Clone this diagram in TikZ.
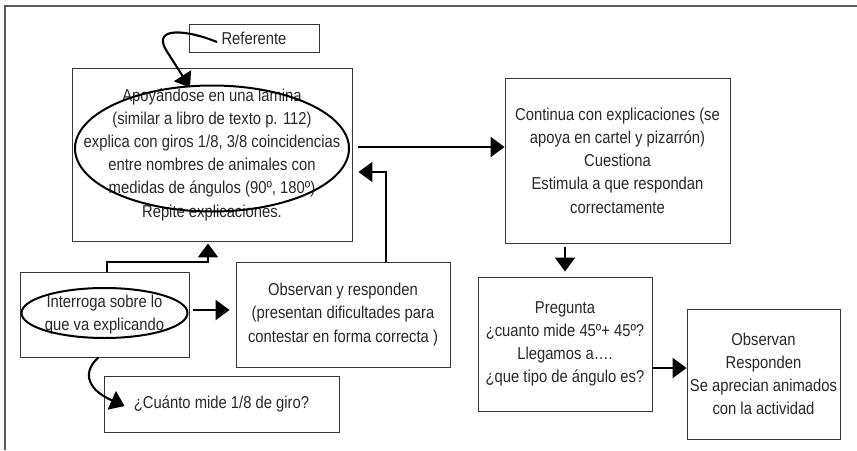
\documentclass[tikz,border=0pt]{standalone}
\usepackage{fontspec}
\setmainfont{Liberation Sans}[FakeStretch=0.86]
\usepackage{tikz}
\usetikzlibrary{arrows.meta, positioning, calc}
\definecolor{mytext}{RGB}{40,40,40}
\definecolor{myline}{RGB}{55,55,55}
\definecolor{myframe}{RGB}{90,90,90}
\tikzset{
  box/.style={rectangle, draw=myline, line width=0.9pt, align=center,
    inner sep=0pt, text=mytext, font=\fontsize{17.2}{23.2}\selectfont},
  arrow/.style={-{Triangle[width=20pt,length=14pt]}, line width=2.1pt, color=black},
  ring/.style={line width=2pt, color=black},
  frame/.style={line width=1.6pt, color=myframe}
}

\begin{document}
\begin{tikzpicture}[x=1pt, y=-1pt]
    \useasboundingbox (0,0) rectangle (857,450);
    % outer frame
    \draw[frame] (5,450) -- (5,6) -- (857,6);

    % boxes
    \node[box, minimum width=130pt, minimum height=28pt] (ref) at (254,38) {Referente};
    \node[box, minimum width=280pt, minimum height=173pt] (main) at (212,154.5)
      {Apoyándose en una lamina\\(similar a libro de texto p. 112)\\explica con giros 1/8, 3/8 coincidencias\\entre nombres de animales con\\medidas de ángulos (90º, 180º)\\Repite explicaciones.};
    \node[box, minimum width=225pt, minimum height=165pt] (continua) at (617.5,160.5)
      {Continua con explicaciones (se\\apoya en cartel y pizarrón)\\Cuestiona\\Estimula a que respondan\\correctamente};
    \node[box, minimum width=169pt, minimum height=85pt] (interroga) at (104.5,314.5)
      {Interroga sobre lo\\que va explicando};
    \node[box, minimum width=214pt, minimum height=105pt] (obs1) at (343,314.5)
      {Observan y responden\\(presentan dificultades para\\contestar en forma correcta )};
    \node[box, minimum width=235pt, minimum height=56pt] (cuanto) at (221.5,404)
      {¿Cuánto mide 1/8 de giro?};
    \node[box, minimum width=174pt, minimum height=134pt] (pregunta) at (565,344)
      {Pregunta\\¿cuanto mide 45º+ 45º?\\Llegamos a….\\¿que tipo de ángulo es?};
    \node[box, minimum width=153pt, minimum height=130pt] (obs2) at (763.5,374)
      {Observan\\Responden\\Se aprecian animados\\con la actividad};

    % ellipses round the key phrases
    \draw[ring] ([yshift=6pt]main.center) ellipse [x radius=137pt, y radius=63pt];
    \draw[ring] ([yshift=1.5pt]interroga.center) ellipse [x radius=83pt, y radius=25pt];

    % connectors
    \coordinate (refstart) at ([xshift=-37pt,yshift=-4pt]ref.center);
    \draw[arrow] (refstart) .. controls (188,30) and (152,26) .. (166,50) -- ([xshift=-22pt,yshift=-20pt]main.north);
    \draw[arrow] ([xshift=6pt,yshift=7.5pt]main.east) coordinate (a1) -- (continua.west |- a1);
    \draw[arrow] ([xshift=43pt]obs1.north) |- ([xshift=6pt,yshift=-17.5pt]main.east);
    \draw[arrow] ([xshift=2.5pt]interroga.north) -- ++(0,-10) -| ([xshift=-4pt,yshift=-2pt]main.south);
    \draw[arrow] ([xshift=4pt,yshift=4.5pt]interroga.east) coordinate (a2) -- ([xshift=-6pt]obs1.west |- a2);
    \coordinate (curvestart) at ([xshift=-6pt]interroga.south);
    \draw[arrow] (curvestart) .. controls (84,370) and (84,388) .. ([xshift=21pt,yshift=-2pt]cuanto.west);
    \draw[arrow] ([yshift=-4pt]continua.south -| pregunta.north) -- ([yshift=5pt]pregunta.north);
    \draw[arrow] ([yshift=-24pt]pregunta.east) coordinate (a3) -- (obs2.west |- a3);
\end{tikzpicture}
\end{document}
